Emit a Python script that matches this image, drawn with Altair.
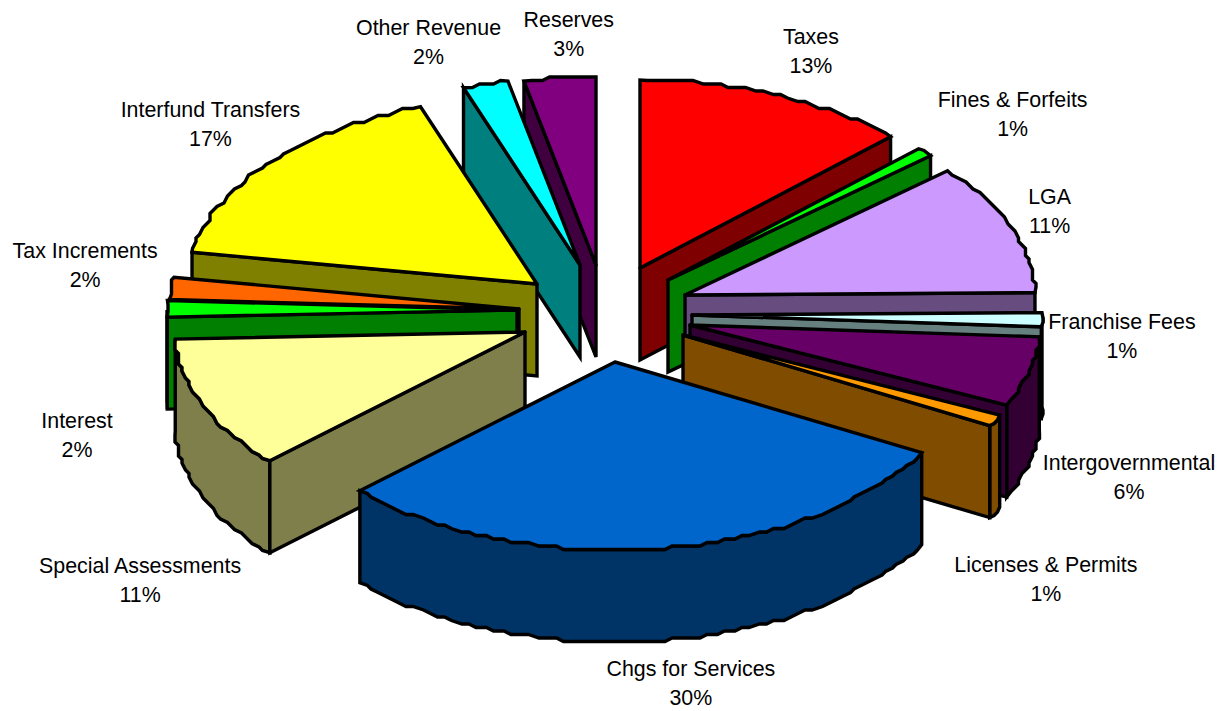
import math
import altair as alt
import pandas as pd

# ---- chart values ----
names = ["Taxes", "Fines & Forfeits", "LGA", "Franchise Fees", "Intergovernmental",
         "Licenses & Permits", "Chgs for Services", "Special Assessments", "Interest",
         "Tax Increments", "Interfund Transfers", "Other Revenue", "Reserves"]
shares = [12.7, 0.8, 11.3, 1.2, 6, 1, 30, 11.4, 1.4, 1.9, 16.9, 2.1, 3.3]
percent_labels = ["13%", "1%", "11%", "1%", "6%", "1%", "30%", "11%", "2%", "2%", "17%", "2%", "3%"]
top_colors = ["#FF0000", "#00FF00", "#CC99FF", "#CCFFFF", "#660066", "#FF9900", "#0066CC",
              "#FFFF99", "#00FF00", "#FF6600", "#FFFF00", "#00FFFF", "#800080"]
# how far each slice is pulled out of the pie
explode_x = [40, 68, 85, 92, 90, 83, 15, -75, -83, -81, -63, -20, -4]
explode_y = [-32, -20, -5, 15, 25, 35, 62, 32, 10, 9, -16, -35, -35]
# label offset from the slice rim
label_dx = [35, 88, 38, 80, 100, 51, 32, -62, -90, -86, -59, -57, 9]
label_dy = [-42, -37, -15, 18, 107, 160, 136, 177, 128, -22, -37, -40, -43]

# ---- pie shape ----
CX, CY = 600, 300
RX, RY = 350, 188
DEPTH = 92
GRID = 3.5      # the outline of the original is stepped, like a coarse metafile


def darken(c):
    return "#%02X%02X%02X" % tuple(int(c[i:i + 2], 16) // 2 for i in (1, 3, 5))


def arc(ax, ay, a0, a1, drop=0):
    n = max(2, int(abs(a1 - a0) / 1.5) + 1)
    out = []
    for k in range(n + 1):
        t = math.radians(a0 + (a1 - a0) * k / n)
        x = ax + RX * math.sin(t)
        y = ay - RY * math.cos(t)
        if 0 < k < n:
            x = round(x / GRID) * GRID
            y = round(y / GRID) * GRID
        out.append((x, y + drop))
    return out


starts = []
acc = 0
for s in shares:
    starts.append(acc * 3.6)
    acc += s

rows = []
piece_id = 0


def add(points, color):
    global piece_id
    pts = points + [points[0]]
    for j, (x, y) in enumerate(pts):
        rows.append({"x": x, "y": y, "piece": piece_id, "v": j, "c": color})
    piece_id += 1


draw_order = [0, 1, 2, 3, 4, 5, 12, 11, 10, 9, 8, 7, 6]
for i in draw_order:
    ax, ay = CX + explode_x[i], CY + explode_y[i]
    a0 = starts[i]
    a1 = a0 + shares[i] * 3.6
    top = top_colors[i]
    side = darken(top)
    # outer wall, only where it faces the viewer
    w0, w1 = max(a0, 90), min(a1, 270)
    if w1 > w0:
        edge = arc(ax, ay, w0, w1)
        lower = arc(ax, ay, w1, w0, DEPTH)
        add(edge + lower, side)
    # the radial face that faces the viewer (a slice across the front shows none)
    if a1 <= 180 or a0 >= 180:
        face = a1 if a1 <= 180 else a0
        t = math.radians(face)
        rim = (ax + RX * math.sin(t), ay - RY * math.cos(t))
        add([(ax, ay), rim, (rim[0], rim[1] + DEPTH), (ax, ay + DEPTH)], side)
    # top surface
    add([(ax, ay)] + arc(ax, ay, a0, a1), top)

poly = pd.DataFrame(rows)

lab = []
for i, name in enumerate(names):
    t = math.radians(starts[i] + shares[i] * 1.8)
    x = CX + explode_x[i] + RX * math.sin(t) + label_dx[i]
    y = CY + explode_y[i] - RY * math.cos(t) + label_dy[i]
    lab.append({"x": x, "y": y - 14.5, "t": name})
    lab.append({"x": x, "y": y + 14.5, "t": percent_labels[i]})
labels = pd.DataFrame(lab)

xs = alt.Scale(domain=[8, 1219], nice=False, zero=False)
ys = alt.Scale(domain=[8, 711], reverse=True, nice=False, zero=False)

slices = alt.Chart(poly).mark_line(
    stroke="#000000", strokeWidth=3.4, strokeJoin="miter", strokeCap="round", clip=False
).encode(
    x=alt.X("x:Q", scale=xs, axis=None),
    y=alt.Y("y:Q", scale=ys, axis=None),
    detail="piece:N",
    order="v:Q",
    fill=alt.Fill("c:N", scale=None, legend=None),
)

text = alt.Chart(labels).mark_text(
    font="Liberation Sans", fontSize=21.4, color="#000000", align="center", baseline="middle"
).encode(
    x=alt.X("x:Q", scale=xs, axis=None),
    y=alt.Y("y:Q", scale=ys, axis=None),
    text="t:N",
)

chart = (slices + text).properties(
    width=1211, height=703, padding=0,
    autosize=alt.AutoSizeParams(type="none"),
    background="#FFFFFF",
).configure_view(stroke=None)

chart.save("out.html", embed_options={"renderer": "svg", "actions": False})
